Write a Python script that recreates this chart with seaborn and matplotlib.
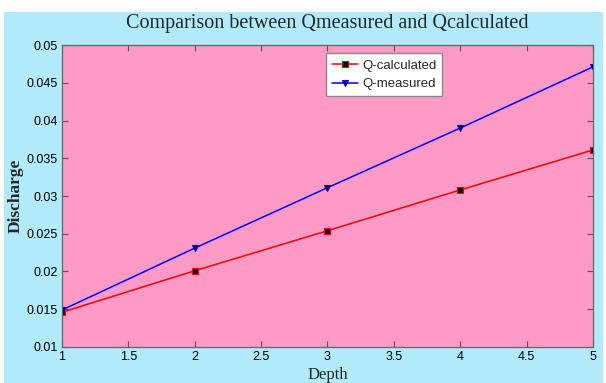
import matplotlib
matplotlib.use('Agg')
import matplotlib.pyplot as plt
import seaborn as sns
import pandas as pd
from matplotlib.patches import Rectangle

sns.set_theme(style="ticks")

depth = [1, 2, 3, 4, 5]
q_calculated = [0.0146, 0.0201, 0.0254, 0.0308, 0.0361]
q_measured = [0.0149, 0.0231, 0.0311, 0.0390, 0.0471]

df = pd.DataFrame({'Depth': depth, 'Q-calculated': q_calculated, 'Q-measured': q_measured})

fig = plt.figure(figsize=(6.06, 3.83), dpi=100, facecolor='white')
# light blue panel behind the chart (white strip on top, like the source)
bg = Rectangle((0.007, 0.0), 0.988, 0.968, transform=fig.transFigure,
               facecolor='#b0eafb', edgecolor='none', zorder=-10)
fig.add_artist(bg)
ax = fig.add_axes([0.1023, 0.094, 0.8762, 0.7885])
ax.set_facecolor('#ff99c6')

sns.lineplot(data=df, x='Depth', y='Q-calculated', ax=ax, color='red', lw=1.1,
             marker='s', markersize=4.5, markerfacecolor='black', markeredgecolor='red',
             markeredgewidth=0.8, label='Q-calculated')
sns.lineplot(data=df, x='Depth', y='Q-measured', ax=ax, color='blue', lw=1.1,
             marker='v', markersize=5, markerfacecolor='black', markeredgecolor='blue',
             markeredgewidth=0.8, label='Q-measured')

ax.set_xlim(1, 5)
ax.set_ylim(0.01, 0.05)
ax.set_xticks([1, 1.5, 2, 2.5, 3, 3.5, 4, 4.5, 5])
ax.set_xticklabels(['1', '1.5', '2', '2.5', '3', '3.5', '4', '4.5', '5'])
ax.set_yticks([0.01, 0.015, 0.02, 0.025, 0.03, 0.035, 0.04, 0.045, 0.05])
ax.set_yticklabels(['0.01', '0.015', '0.02', '0.025', '0.03', '0.035', '0.04', '0.045', '0.05'])
ax.tick_params(direction='in', top=True, right=True, length=4, width=0.8,
               colors='#555555', labelcolor='black', labelsize=9, pad=3)
for lab in ax.get_xticklabels() + ax.get_yticklabels():
    lab.set_family('Liberation Sans')
for sp in ax.spines.values():
    sp.set_color('#666666')
    sp.set_linewidth(0.9)

ax.set_xlabel('Depth', family='Liberation Serif', fontsize=12, labelpad=3)
ax.set_ylabel('Discharge', family='Liberation Serif', fontsize=12.5, fontweight='bold', labelpad=2)
ax.set_title('Comparison between Qmeasured and Qcalculated', family='Liberation Serif',
             fontsize=14.5, pad=12)

leg = ax.legend(loc='upper left', bbox_to_anchor=(0.497, 0.972), fontsize=9.5,
                frameon=True, fancybox=False, edgecolor='#888888', framealpha=1,
                handlelength=2.0, handletextpad=0.3, borderpad=0.45, labelspacing=0.5,
                borderaxespad=0)
for t in leg.get_texts():
    t.set_family('Liberation Sans')

plt.savefig('out.png', dpi=100, facecolor=fig.get_facecolor())
plt.close()
